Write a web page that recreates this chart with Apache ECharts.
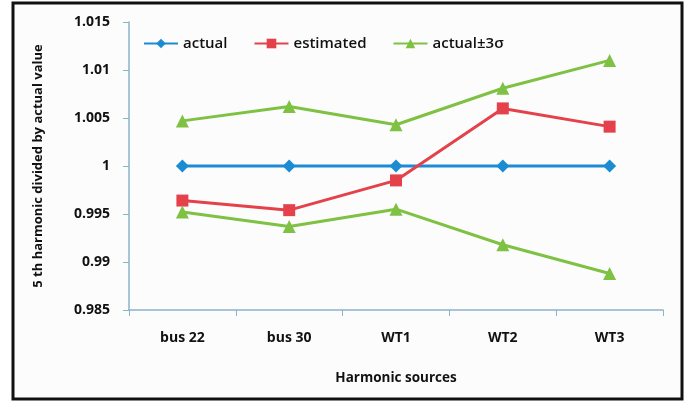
<!DOCTYPE html>
<html><head><meta charset="utf-8">
<script src="https://cdn.jsdelivr.net/npm/echarts@6/dist/echarts.min.js"></script>
<style>html,body{margin:0;padding:0;background:#fff}#c{width:694px;height:402px}</style>
</head><body><div id="c"></div>
<script>
const categories = ['bus 22', 'bus 30', 'WT1', 'WT2', 'WT3'];
const actual = [1, 1, 1, 1, 1];
const estimated = [0.9964, 0.9954, 0.9985, 1.0060, 1.0041];
const upper3s = [1.0047, 1.0062, 1.0043, 1.0081, 1.0110];
const lower3s = [0.9952, 0.9937, 0.9955, 0.9918, 0.9888];
const yTicks = { min: 0.985, max: 1.015, step: 0.005 };

const font = 'Open Sans';
const chart = echarts.init(document.getElementById('c'));
const lineSeries = (name, data, color, symbol, size) => ({
  name, type: 'line', data, symbol, symbolSize: size,
  lineStyle: { color, width: 3 }, itemStyle: { color },
  emphasis: { disabled: true }, animation: false
});
chart.setOption({
  backgroundColor: '#fff',
  animation: false,
  graphic: [{
    type: 'rect', z: -1,
    shape: { x: 13, y: 3, width: 669, height: 396 },
    style: { fill: '#fcfcfc', stroke: '#111', lineWidth: 3 }
  }],
  grid: { left: 129, right: 31, top: 22, bottom: 92 },
  legend: {
    top: 31, left: 138, itemWidth: 34, itemHeight: 12, itemGap: 26,
    textStyle: { fontFamily: font, fontSize: 15, color: '#111', fontWeight: 600 },
    data: ['actual', 'estimated', 'actual±3σ']
  },
  xAxis: {
    type: 'category', data: categories, boundaryGap: true,
    name: 'Harmonic sources', nameLocation: 'middle', nameGap: 61,
    nameTextStyle: { fontFamily: font, fontSize: 13.5, fontWeight: 'bold', color: '#111' },
    axisLine: { lineStyle: { color: '#8db3c7', width: 1.5 } },
    axisTick: { show: true, length: 6, alignWithLabel: false, lineStyle: { color: '#8db3c7' } },
    axisLabel: { fontFamily: font, fontSize: 14, fontWeight: 'bold', color: '#111', margin: 21 }
  },
  yAxis: {
    type: 'value', min: yTicks.min, max: yTicks.max, interval: yTicks.step,
    name: '5 th harmonic divided by actual value', nameLocation: 'middle', nameGap: 84,
    nameRotate: 90,
    nameTextStyle: { fontFamily: font, fontSize: 13, fontWeight: 'bold', color: '#111' },
    axisLine: { show: true, lineStyle: { color: '#8db3c7', width: 1.5 } },
    axisTick: { show: true, length: 6, lineStyle: { color: '#8db3c7' } },
    splitLine: { show: false },
    axisLabel: {
      fontFamily: font, fontSize: 14, fontWeight: 'bold', color: '#111', margin: 19,
      formatter: v => String(parseFloat(v.toFixed(3)))
    }
  },
  series: [
    lineSeries('actual', actual, '#1b8bd3', 'diamond', 13),
    lineSeries('estimated', estimated, '#e5414a', 'rect', 12),
    lineSeries('actual±3σ', upper3s, '#7fc143', 'triangle', 13),
    lineSeries('actual±3σ', lower3s, '#7fc143', 'triangle', 13)
  ]
});
</script></body></html>
